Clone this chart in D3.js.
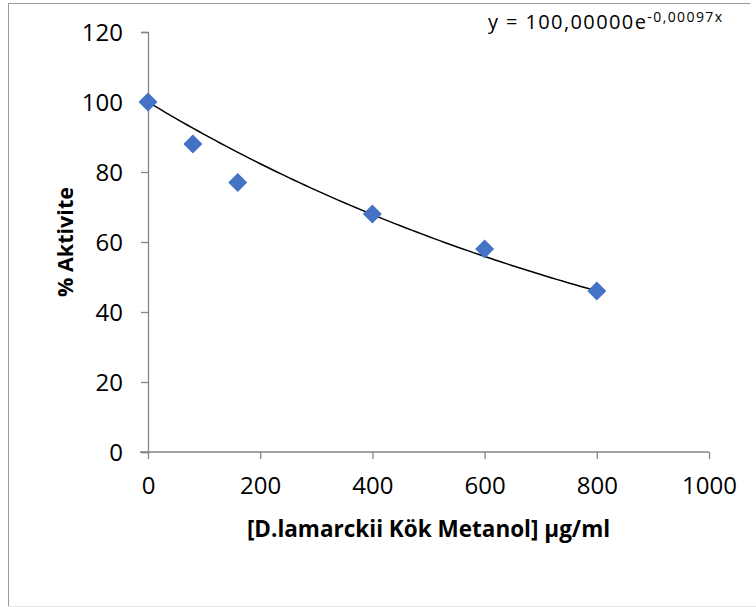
<!DOCTYPE html>
<html>
<head>
<meta charset="utf-8">
<script src="https://cdn.jsdelivr.net/npm/d3@7"></script>
<style>
  body { margin: 0; background: #fff; }
  svg { display: block; }
  text { font-family: "Open Sans", sans-serif; fill: #000; }
</style>
</head>
<body>
<div id="chart"></div>
<script>
// data
var concentrations = [0, 80, 160, 400, 600, 800];
var activity = [100, 88, 77, 68, 58, 46];
var xTicks = [0, 200, 400, 600, 800, 1000];
var yTicks = [0, 20, 40, 60, 80, 100, 120];
// exponential trendline shown on the chart: y = a * e^(b x)
var trendA = 100;
var trendB = -0.00097;

var W = 756, H = 607;
var margin = {top: 32, right: 47, bottom: 155, left: 148};
var width = W - margin.left - margin.right,
    height = H - margin.top - margin.bottom;

var svg = d3.select("#chart").append("svg")
    .attr("width", W)
    .attr("height", H);

// chart frame
svg.append("line").attr("x1", 8.5).attr("x2", 8.5).attr("y1", 3).attr("y2", 606)
    .attr("stroke", "#9a9a9a");
svg.append("line").attr("x1", 8).attr("x2", 750).attr("y1", 3.5).attr("y2", 3.5)
    .attr("stroke", "#9a9a9a");
svg.append("line").attr("x1", 8).attr("x2", 756).attr("y1", 606.5).attr("y2", 606.5)
    .attr("stroke", "#e4e4e4");

var g = svg.append("g")
    .attr("transform", "translate(" + margin.left + "," + margin.top + ")");

var x = d3.scaleLinear().domain([0, 1000]).range([0, width]);
var y = d3.scaleLinear().domain([0, 120]).range([height, 0]);

// axes
var xAxis = g.append("g")
    .attr("transform", "translate(0," + height + ")")
    .call(d3.axisBottom(x).tickValues(xTicks).tickFormat(d3.format("d"))
      .tickSize(7).tickPadding(18));
var yAxis = g.append("g")
    .call(d3.axisLeft(y).tickValues(yTicks).tickFormat(d3.format("d"))
      .tickSize(7).tickPadding(18));

[xAxis, yAxis].forEach(function(a) {
  a.select(".domain").attr("stroke", "#868686").attr("stroke-width", 1.3);
  a.selectAll(".tick line").attr("stroke", "#868686").attr("stroke-width", 1.3);
  a.selectAll(".tick text")
      .style("font-family", "'Open Sans', sans-serif")
      .style("font-size", "24px")
      .attr("fill", "#000");
});
xAxis.select(".domain").attr("d", "M-8,0H" + width);
yAxis.selectAll(".tick text").attr("dy", "0.36em");

// trendline
var trendData = d3.range(0, 801, 10).map(function(c) {
  return [c, trendA * Math.exp(trendB * c)];
});
g.append("path")
    .datum(trendData)
    .attr("fill", "none")
    .attr("stroke", "#000")
    .attr("stroke-width", 1.5)
    .attr("d", d3.line()
      .x(function(d) { return x(d[0]); })
      .y(function(d) { return y(d[1]); }));

// markers
var pts = concentrations.map(function(c, i) { return {x: c, y: activity[i]}; });
g.selectAll(".pt")
    .data(pts)
  .enter().append("path")
    .attr("class", "pt")
    .attr("fill", "#4472C4")
    .attr("transform", function(d) { return "translate(" + x(d.x) + "," + y(d.y) + ")"; })
    .attr("d", "M0,-9.5L9.5,0L0,9.5L-9.5,0Z");

// axis titles
svg.append("text")
    .attr("x", margin.left + width / 2)
    .attr("y", 537)
    .attr("text-anchor", "middle")
    .style("font-size", "22.5px")
    .style("font-weight", "bold")
    .text("[D.lamarckii Kök Metanol] µg/ml");

svg.append("text")
    .attr("transform", "translate(73," + (margin.top + height / 2) + ") rotate(-90)")
    .attr("text-anchor", "middle")
    .style("font-size", "21.5px")
    .style("font-weight", "bold")
    .text("% Aktivite");

// trendline equation
var eq = svg.append("text")
    .attr("x", 488)
    .attr("y", 29)
    .style("font-size", "20px")
    .style("letter-spacing", "1.4px");
eq.append("tspan").text("y = " + trendA.toFixed(5).replace(".", ",") + "e");
eq.append("tspan")
    .attr("dy", -7)
    .style("font-size", "14px")
    .text(trendB.toFixed(5).replace(".", ",") + "x");
</script>
</body>
</html>
